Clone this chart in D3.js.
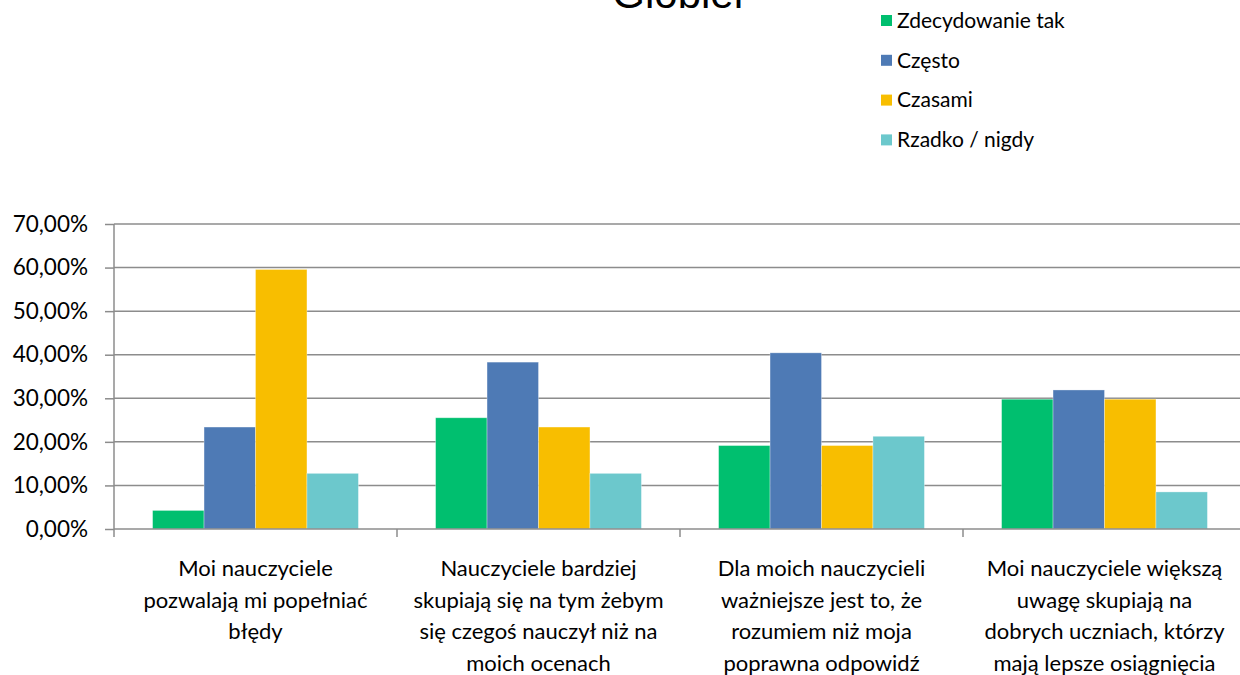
<!DOCTYPE html>
<html>
<head>
<meta charset="utf-8">
<script src="https://cdn.jsdelivr.net/npm/d3@7"></script>
<style>
  body { margin: 0; background: #fff; }
  svg { display: block; }
  .tick text { font-family: Lato, "Open Sans", sans-serif; fill: #000; }
  .grid line { stroke: #8c8c8c; stroke-width: 1.5; }
  .legend { font-family: Lato, "Open Sans", sans-serif; font-size: 20px; fill: #000; }
</style>
</head>
<body>
<script>
var w = 1240;
var h = 675;

// data
var categories = [
  ["Moi nauczyciele", "pozwalają mi popełniać", "błędy"],
  ["Nauczyciele bardziej", "skupiają się na tym żebym", "się czegoś nauczył niż na", "moich ocenach"],
  ["Dla moich nauczycieli", "ważniejsze jest to, że", "rozumiem niż moja", "poprawna odpowidź"],
  ["Moi nauczyciele większą", "uwagę skupiają na", "dobrych uczniach, którzy", "mają lepsze osiągnięcia"]
];
var series = ["Zdecydowanie tak", "Często", "Czasami", "Rzadko / nigdy"];
var colors = ["#00bf6f", "#4e7ab5", "#f8be00", "#6cc8cc"];
var zdecydowanie = [0.0426, 0.2553, 0.1915, 0.2979];
var czesto = [0.2340, 0.3830, 0.4043, 0.3191];
var czasami = [0.5957, 0.2340, 0.1915, 0.2979];
var rzadko = [0.1277, 0.1277, 0.2128, 0.0851];
var yTicks = [0, 0.1, 0.2, 0.3, 0.4, 0.5, 0.6, 0.7];
var title = "Globler";

var values = [zdecydowanie, czesto, czasami, rzadko];

var margin = {top: 224, left: 114, bottom: 146};
var plotRight = 1246;

var svg = d3.select("body").append("svg")
    .attr("width", w)
    .attr("height", h);

var pl = d3.formatLocale({decimal: ",", thousands: " ", grouping: [3], currency: ["", " zł"]});
var fmt = pl.format(".2%");

var x0 = d3.scaleBand()
    .domain(d3.range(categories.length))
    .range([margin.left, plotRight]);

var x1 = d3.scaleBand()
    .domain(d3.range(series.length))
    .range([0, x0.bandwidth()])
    .paddingOuter(0.75);

var y = d3.scaleLinear()
    .domain([0, 0.7])
    .range([h - margin.bottom, margin.top]);

// title (cut off at the top, as in the original)
svg.append("text")
    .attr("x", 680)
    .attr("y", 8)
    .attr("text-anchor", "middle")
    .style("font-family", "'Liberation Sans', Arial, sans-serif")
    .style("font-size", "42px")
    .text(title);

// gridlines
svg.append("g")
    .attr("class", "grid")
    .selectAll("line")
    .data(yTicks.slice(1))
    .enter().append("line")
    .attr("x1", margin.left)
    .attr("x2", w)
    .attr("y1", function(d) { return y(d); })
    .attr("y2", function(d) { return y(d); });

// y axis
var yAxis = svg.append("g")
    .attr("transform", "translate(" + margin.left + ",0)")
    .call(d3.axisLeft(y).tickValues(yTicks).tickFormat(fmt).tickSize(9).tickPadding(17));
yAxis.selectAll("line, path").attr("stroke", "#8c8c8c").attr("stroke-width", 1.5);
yAxis.select(".domain").attr("d", "M0," + y(0) + "V" + y(0.7));
yAxis.selectAll(".tick text").style("font-size", "22.5px");

// bars
var groups = svg.append("g").selectAll("g")
    .data(categories)
    .enter().append("g")
    .attr("transform", function(d, i) { return "translate(" + x0(i) + ",0)"; });

groups.selectAll("rect")
    .data(function(d, i) { return values.map(function(s, j) { return {s: j, v: s[i]}; }); })
    .enter().append("rect")
    .attr("x", function(d) { return x1(d.s); })
    .attr("width", x1.bandwidth())
    .attr("y", function(d) { return y(d.v); })
    .attr("height", function(d) { return y(0) - y(d.v); })
    .attr("fill", function(d) { return colors[d.s]; })
    .attr("stroke", "#ffffff")
    .attr("stroke-opacity", 0.4)
    .attr("stroke-width", 0.8);

// x axis
var xAxisG = svg.append("g");
xAxisG.append("line")
    .attr("x1", margin.left)
    .attr("x2", w)
    .attr("y1", y(0))
    .attr("y2", y(0))
    .attr("stroke", "#8c8c8c")
    .attr("stroke-width", 1.5);
xAxisG.selectAll(".xtick")
    .data(d3.range(categories.length))
    .enter().append("line")
    .attr("x1", function(d) { return x0(d); })
    .attr("x2", function(d) { return x0(d); })
    .attr("y1", y(0))
    .attr("y2", y(0) + 8)
    .attr("stroke", "#8c8c8c")
    .attr("stroke-width", 1.5);

// category labels
var labels = xAxisG.selectAll(".cat")
    .data(categories)
    .enter().append("text")
    .attr("class", "cat")
    .attr("text-anchor", "middle")
    .style("font-family", "Lato, 'Open Sans', sans-serif")
    .style("font-size", "22px")
    .attr("transform", function(d, i) { return "translate(" + (x0(i) + x0.bandwidth() / 2) + ",0)"; });

labels.selectAll("tspan")
    .data(function(d) { return d; })
    .enter().append("tspan")
    .attr("x", 0)
    .attr("y", function(d, i) { return 576 + i * 31.5; })
    .text(function(d) { return d; });

// legend
var legend = svg.append("g").selectAll("g")
    .data(series)
    .enter().append("g")
    .attr("transform", function(d, i) { return "translate(881," + (20.5 + i * 39.8) + ")"; });

legend.append("rect")
    .attr("x", 0)
    .attr("y", -5.5)
    .attr("width", 11)
    .attr("height", 11)
    .attr("fill", function(d, i) { return colors[i]; });

legend.append("text")
    .attr("class", "legend")
    .attr("x", 16)
    .attr("dy", ".35em")
    .style("font-size", "21px")
    .text(function(d) { return d; });
</script>
</body>
</html>
